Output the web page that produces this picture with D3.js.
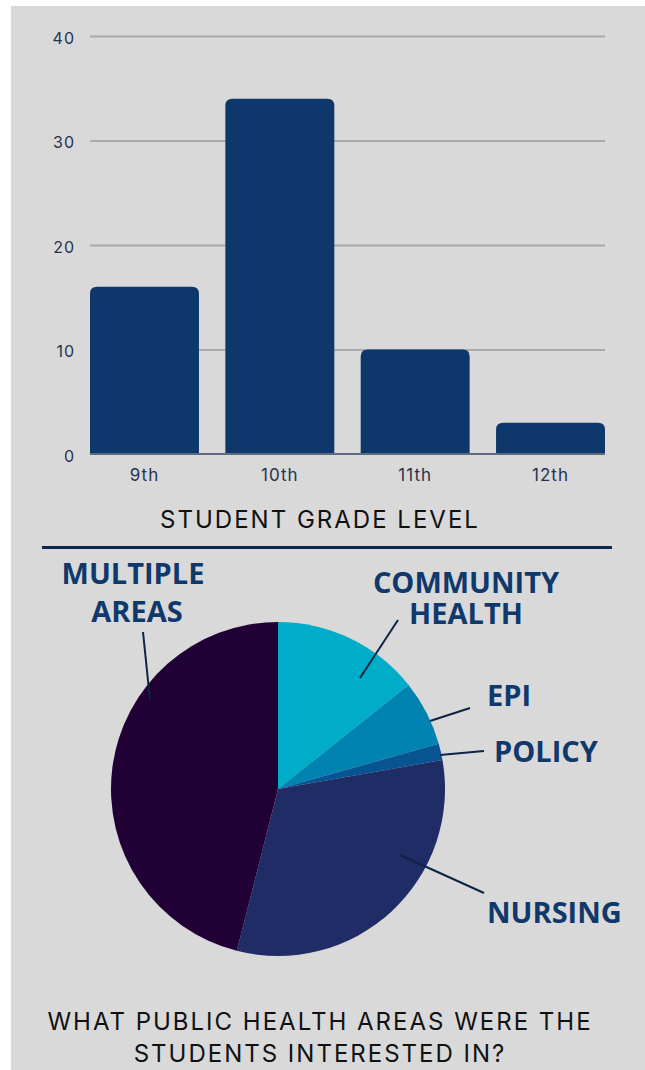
<!DOCTYPE html>
<html>
<head>
<meta charset="utf-8">
<script src="https://cdn.jsdelivr.net/npm/d3@7"></script>
<style>
  body { margin: 0; background: #fff; }
  svg { display: block; }
</style>
</head>
<body>
<div id="chart"></div>
<script>
// bar chart data
const grades = ["9th", "10th", "11th", "12th"];
const studentCounts = [16, 34, 10, 3];
const yTicks = [0, 10, 20, 30, 40];

// pie chart data
const areas = ["COMMUNITY HEALTH", "EPI", "POLICY", "NURSING", "MULTIPLE AREAS"];
const areaCounts = [9, 4, 1, 20, 29];
const areaColors = ["#00adc8", "#0083b0", "#065592", "#1f2c66", "#200035"];

const W = 645, H = 1070;
const navy = "#0f386b";
const labelFont = "'Open Sans', sans-serif";
const textFont = "Inter, 'Noto Sans', sans-serif";

const svg = d3.select("#chart").append("svg")
    .attr("width", W)
    .attr("height", H);

// gray panel
svg.append("rect")
    .attr("x", 11).attr("y", 6)
    .attr("width", W - 11).attr("height", H - 6)
    .attr("fill", "#d9d9d9");

// ---------- bar chart ----------
const x = d3.scaleBand()
    .domain(grades)
    .range([90, 605])
    .paddingInner(0.195)
    .paddingOuter(0);

const y = d3.scaleLinear()
    .domain([0, 40])
    .range([454, 36]);

// gridlines + y labels
const yAxis = svg.append("g")
    .attr("transform", "translate(90,0)")
    .call(d3.axisLeft(y).tickValues(yTicks).tickSize(-515).tickPadding(15));
yAxis.select(".domain").remove();
yAxis.selectAll(".tick line")
    .attr("stroke", "#a9a9ae")
    .attr("stroke-width", 2)
    .filter(d => d === 0).remove();
yAxis.selectAll(".tick text")
    .attr("fill", "#28324e")
    .attr("dy", "0.45em")
    .style("font-family", textFont)
    .style("font-size", "16px")
    .style("letter-spacing", "1px");

// bars with rounded top corners
function topRounded(x0, y0, w, h, r) {
    r = Math.min(r, h, w / 2);
    return `M${x0},${y0 + h}V${y0 + r}Q${x0},${y0} ${x0 + r},${y0}` +
        `H${x0 + w - r}Q${x0 + w},${y0} ${x0 + w},${y0 + r}V${y0 + h}Z`;
}

svg.append("g")
    .selectAll("path")
    .data(grades)
    .enter()
    .append("path")
    .attr("d", (d, i) => topRounded(x(d), y(studentCounts[i]), x.bandwidth(), y(0) - y(studentCounts[i]), 7))
    .attr("fill", "#0e386b");

// baseline
svg.append("line")
    .attr("x1", 90).attr("x2", 605)
    .attr("y1", y(0)).attr("y2", y(0))
    .attr("stroke", "#5d6b82")
    .attr("stroke-width", 2);

// x labels
const xAxis = svg.append("g")
    .attr("transform", `translate(0,${y(0)})`)
    .call(d3.axisBottom(x).tickSize(0).tickPadding(15));
xAxis.select(".domain").remove();
xAxis.selectAll(".tick text")
    .attr("fill", "#28324e")
    .style("font-family", textFont)
    .style("font-size", "17px")
    .style("letter-spacing", "1px");

svg.append("text")
    .attr("x", 320).attr("y", 528)
    .attr("text-anchor", "middle")
    .attr("fill", "#111")
    .style("font-family", textFont)
    .style("font-size", "24px")
    .style("letter-spacing", "2px")
    .text("STUDENT GRADE LEVEL");

// divider
svg.append("line")
    .attr("x1", 42).attr("x2", 612)
    .attr("y1", 547.5).attr("y2", 547.5)
    .attr("stroke", "#0c2850")
    .attr("stroke-width", 3);

// ---------- pie chart ----------
const cx = 278, cy = 789, radius = 167;

const pie = d3.pie().sort(null).value(d => d);
const arcs = pie(areaCounts);
const arc = d3.arc().innerRadius(0).outerRadius(radius);

const pieG = svg.append("g")
    .attr("transform", `translate(${cx},${cy})`);

pieG.selectAll("path")
    .data(arcs)
    .enter()
    .append("path")
    .attr("d", arc)
    .attr("fill", (d, i) => areaColors[i]);

// leader lines from inside each slice out to its label
const leaderLines = [
    [[360, 678], [398, 620]],
    [[430, 721], [470, 708]],
    [[440, 755], [484, 751]],
    [[400, 855], [484, 893]],
    [[150, 700], [143, 632]]
];
svg.append("g")
    .selectAll("line")
    .data(leaderLines)
    .enter()
    .append("line")
    .attr("x1", d => d[0][0]).attr("y1", d => d[0][1])
    .attr("x2", d => d[1][0]).attr("y2", d => d[1][1])
    .attr("stroke", "#0c2446")
    .attr("stroke-width", 2);

// labels
const labelPos = [
    { x: 466, y: 593, lh: 31, anchor: "middle" },
    { x: 487, y: 706, lh: 0, anchor: "start" },
    { x: 494, y: 762, lh: 0, anchor: "start" },
    { x: 487, y: 923, lh: 0, anchor: "start" },
    { x: 133, y: 584, lh: 38, anchor: "middle" }
];
areas.forEach((name, i) => {
    const p = labelPos[i];
    const words = name.split(" ");
    const t = svg.append("text")
        .attr("text-anchor", p.anchor)
        .attr("fill", navy)
        .style("font-family", labelFont)
        .style("font-weight", 700)
        .style("font-size", "29px");
    words.forEach((w, j) => {
        t.append("tspan")
            .attr("x", p.x + (j > 0 && i === 4 ? 4 : 0))
            .attr("y", p.y + j * p.lh)
            .text(w);
    });
});

// pie title
const title = svg.append("text")
    .attr("text-anchor", "middle")
    .attr("fill", "#111")
    .style("font-family", textFont)
    .style("font-size", "24px")
    .style("letter-spacing", "2px");
title.append("tspan").attr("x", 320).attr("y", 1030).text("WHAT PUBLIC HEALTH AREAS WERE THE");
title.append("tspan").attr("x", 320).attr("y", 1062).text("STUDENTS INTERESTED IN?");
</script>
</body>
</html>
